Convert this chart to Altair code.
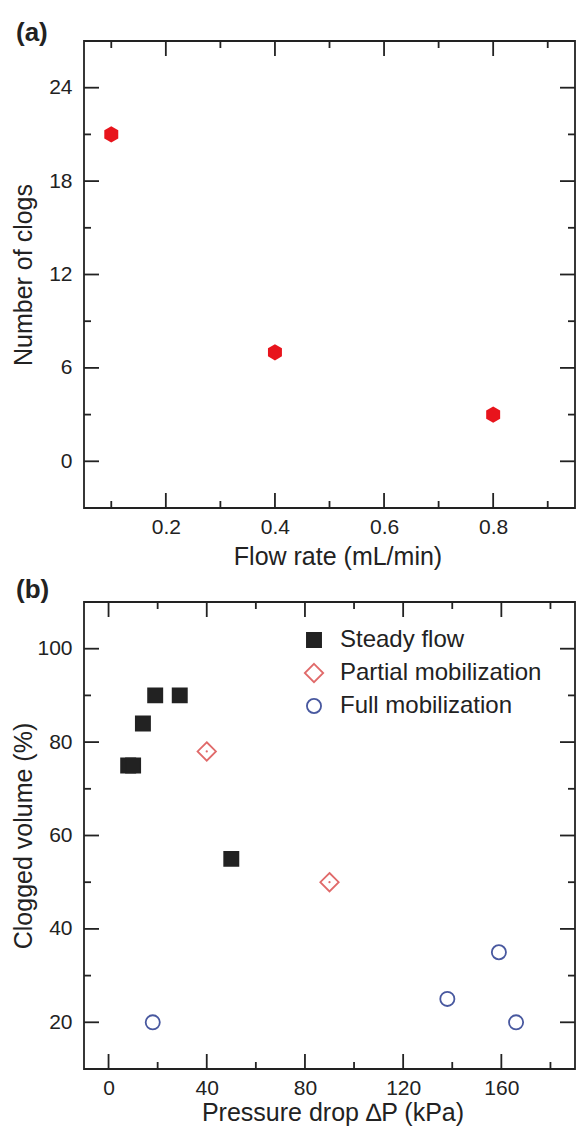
import altair as alt
import pandas as pd

# ---------------- data ----------------
# Panel (a)
flow_rate = [0.1, 0.4, 0.8]
n_clogs = [21, 7, 3]

# Panel (b)
series_names = ["Steady flow", "Partial mobilization", "Full mobilization"]
steady_dp = [8, 10, 14, 19, 29, 50]
steady_vol = [75, 75, 84, 90, 90, 55]
partial_dp = [40, 90]
partial_vol = [78, 50]
full_dp = [18, 138, 159, 166]
full_vol = [20, 25, 35, 20]

# tick values
a_x_major = [0.2, 0.4, 0.6, 0.8]
a_x_minor = [0.1, 0.3, 0.5, 0.7, 0.9]
a_y_major = [0, 6, 12, 18, 24]
a_y_minor = [3, 9, 15, 21]
b_x_major = [0, 40, 80, 120, 160]
b_x_minor = [20, 60, 100, 140, 180]
b_y_major = [20, 40, 60, 80, 100]
b_y_minor = [30, 50, 70, 90]

# ---------------- style ----------------
W, H = 491, 467
FONT = "Liberation Sans"
INK = "#222222"
MAJ, MIN = 15, 7
LW = 1.8
RED = "#e8141c"
PINK = "#e06a6a"
BLUE = "#48589f"


def tick_layers(xscale, yscale, xaxis, yaxis, xtitle, ytitle, xmaj, xmin, ymaj, ymin):
    layers = []
    for vals, L in ((xmaj, MAJ), (xmin, MIN)):
        base = alt.Chart(pd.DataFrame({"v": vals})).mark_rule(color=INK, strokeWidth=LW)
        xe = alt.X("v:Q", scale=xscale, axis=xaxis, title=xtitle)
        layers.append(base.encode(x=xe, y=alt.value(H), y2=alt.value(H - L)))
        layers.append(base.encode(x=xe, y=alt.value(0), y2=alt.value(L)))
    for vals, L in ((ymaj, MAJ), (ymin, MIN)):
        base = alt.Chart(pd.DataFrame({"v": vals})).mark_rule(color=INK, strokeWidth=LW)
        ye = alt.Y("v:Q", scale=yscale, axis=yaxis, title=ytitle)
        layers.append(base.encode(y=ye, x=alt.value(0), x2=alt.value(L)))
        layers.append(base.encode(y=ye, x=alt.value(W), x2=alt.value(W - L)))
    return layers


def x_axis(values, fmt, title_y, title_x):
    return alt.Axis(values=values, format=fmt, grid=False, domain=False,
                    ticks=False, tickSize=0, labelPadding=19, labelBaseline="middle",
                    labelFontSize=21, labelFont=FONT, labelColor=INK,
                    titleFontSize=25, titleFont=FONT, titleColor=INK, titleFontWeight="normal",
                    titleY=title_y, titleX=title_x, titleBaseline="middle", titleAlign="center")


def y_axis(values):
    return alt.Axis(values=values, format="d", grid=False, domain=False,
                    ticks=False, tickSize=0, labelPadding=12,
                    labelFontSize=21, labelFont=FONT, labelColor=INK,
                    titleFontSize=25, titleFont=FONT, titleColor=INK, titleFontWeight="normal",
                    titleAngle=270, titleX=-61, titleY=H / 2, titleBaseline="middle",
                    titleAlign="center")


def panel_label(text, dy):
    return alt.Chart(pd.DataFrame({"t": [text]})).mark_text(
        align="left", baseline="middle", font=FONT, fontSize=26, fontWeight="bold", color=INK
    ).encode(text="t:N", x=alt.value(-68), y=alt.value(dy))


# ---------------- panel (a) ----------------
xa = alt.Scale(domain=[0.05, 0.95], nice=False, zero=False)
ya = alt.Scale(domain=[-3, 27], nice=False, zero=False)
xa_axis = x_axis(a_x_major, ".1f", 48, W / 2 + 8)
ya_axis = y_axis(a_y_major)
xa_title = "Flow rate (mL/min)"
ya_title = "Number of clogs"
hexagon = "M0,-1L0.866,-0.5L0.866,0.5L0,1L-0.866,0.5L-0.866,-0.5Z"

df_a = pd.DataFrame({"flow": flow_rate, "clogs": n_clogs})
pts_a = alt.Chart(df_a).mark_point(shape=hexagon, size=260, filled=True, color=RED, opacity=1).encode(
    x=alt.X("flow:Q", scale=xa, axis=xa_axis, title=xa_title),
    y=alt.Y("clogs:Q", scale=ya, axis=ya_axis, title=ya_title),
)
panel_a = alt.layer(
    pts_a,
    *tick_layers(xa, ya, xa_axis, ya_axis, xa_title, ya_title, a_x_major, a_x_minor, a_y_major, a_y_minor),
    panel_label("(a)", -8),
).properties(width=W, height=H)

# ---------------- panel (b) ----------------
xb = alt.Scale(domain=[-10, 190], nice=False, zero=False)
yb = alt.Scale(domain=[10, 110], nice=False, zero=False)
xb_axis = x_axis(b_x_major, "d", 43, W / 2 + 3)
yb_axis = y_axis(b_y_major)
xb_title = "Pressure drop \u2206P (kPa)"
yb_title = "Clogged volume (%)"
diamond = "M0,-1.3L1.3,0L0,1.3L-1.3,0Z"

df_b = pd.DataFrame({
    "dp": steady_dp + partial_dp + full_dp,
    "vol": steady_vol + partial_vol + full_vol,
    "series": [series_names[0]] * len(steady_dp)
    + [series_names[1]] * len(partial_dp)
    + [series_names[2]] * len(full_dp),
})

leg = alt.Legend(title=None, orient="none", legendX=218, legendY=26, symbolSize=200,
                 labelFontSize=24, labelFont=FONT, labelColor=INK, labelOffset=14, labelLimit=0,
                 rowPadding=8, padding=0, symbolStrokeWidth=LW)

pts_b = alt.Chart(df_b).mark_point(size=200, strokeWidth=LW, opacity=1).encode(
    x=alt.X("dp:Q", scale=xb, axis=xb_axis, title=xb_title),
    y=alt.Y("vol:Q", scale=yb, axis=yb_axis, title=yb_title),
    shape=alt.Shape("series:N", scale=alt.Scale(domain=series_names, range=["square", diamond, "circle"]), legend=leg),
    stroke=alt.Stroke("series:N", scale=alt.Scale(domain=series_names, range=[INK, PINK, BLUE]), legend=leg),
    fill=alt.Fill("series:N", scale=alt.Scale(domain=series_names, range=[INK, "transparent", "transparent"]), legend=leg),
)

dots_b = alt.Chart(pd.DataFrame({"dp": partial_dp, "vol": partial_vol})).mark_point(
    filled=True, size=5, color=PINK, opacity=1
).encode(
    x=alt.X("dp:Q", scale=xb, axis=xb_axis, title=xb_title),
    y=alt.Y("vol:Q", scale=yb, axis=yb_axis, title=yb_title),
)

panel_b = alt.layer(
    pts_b,
    dots_b,
    *tick_layers(xb, yb, xb_axis, yb_axis, xb_title, yb_title, b_x_major, b_x_minor, b_y_major, b_y_minor),
    panel_label("(b)", -12),
).properties(width=W, height=H)

chart = alt.vconcat(panel_a, panel_b, spacing=94, bounds="flush").resolve_scale(
    shape="independent", stroke="independent", fill="independent"
).resolve_legend(
    shape="independent", stroke="independent", fill="independent"
).properties(
    padding={"left": 2, "top": 11, "right": 0, "bottom": 0}
).configure_view(stroke=INK, strokeWidth=LW)

chart.save("out.html", embed_options={"renderer": "svg", "actions": False})
